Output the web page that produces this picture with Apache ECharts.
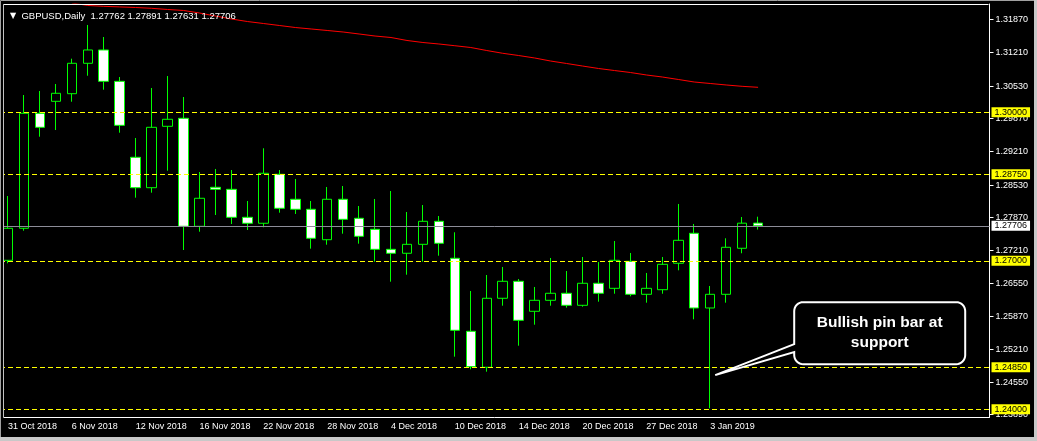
<!DOCTYPE html>
<html><head><meta charset="utf-8">
<script src="https://cdn.jsdelivr.net/npm/echarts@6/dist/echarts.min.js"></script>
<style>html,body{margin:0;padding:0;background:#000;overflow:hidden}#c{width:1037px;height:441px}</style>
</head><body><div id="c"></div>
<script>
// ---------- data ----------
const symbol = 'GBPUSD,Daily';
const categories = [
  '31 Oct 2018','1 Nov 2018','2 Nov 2018','5 Nov 2018','6 Nov 2018','7 Nov 2018','8 Nov 2018','9 Nov 2018',
  '12 Nov 2018','13 Nov 2018','14 Nov 2018','15 Nov 2018','16 Nov 2018','19 Nov 2018','20 Nov 2018','21 Nov 2018',
  '22 Nov 2018','23 Nov 2018','26 Nov 2018','27 Nov 2018','28 Nov 2018','29 Nov 2018','30 Nov 2018','3 Dec 2018',
  '4 Dec 2018','5 Dec 2018','6 Dec 2018','7 Dec 2018','10 Dec 2018','11 Dec 2018','12 Dec 2018','13 Dec 2018',
  '14 Dec 2018','17 Dec 2018','18 Dec 2018','19 Dec 2018','20 Dec 2018','21 Dec 2018','24 Dec 2018','26 Dec 2018',
  '27 Dec 2018','28 Dec 2018','31 Dec 2018','2 Jan 2019','3 Jan 2019','4 Jan 2019','7 Jan 2019','8 Jan 2019'
];
const open = [1.27010,1.27657,1.29980,1.30222,1.30376,1.30990,1.31259,1.30626,
  1.29091,1.28477,1.29717,1.29879,1.27697,1.28485,1.28444,1.27879,
  1.27758,1.28748,1.28243,1.28041,1.27426,1.28243,1.27859,1.27636,
  1.27232,1.27152,1.27333,1.27798,1.27051,1.25576,1.24849,1.26243,
  1.26586,1.25980,1.26202,1.26344,1.26101,1.26546,1.26444,1.26990,
  1.26323,1.26416,1.26950,1.27556,1.26047,1.26323,1.27253,1.27762];
const high = [1.28309,1.30349,1.30430,1.30572,1.31083,1.31764,1.31521,1.30713,
  1.29481,1.30491,1.30733,1.30309,1.28794,1.28855,1.28834,1.28208,
  1.29273,1.28834,1.28653,1.28208,1.28491,1.28511,1.28107,1.28249,
  1.28410,1.27986,1.28127,1.27905,1.27576,1.26390,1.26713,1.26875,
  1.26632,1.26471,1.27057,1.26794,1.27077,1.26976,1.27400,1.27158,
  1.26754,1.27077,1.28148,1.27744,1.26491,1.27455,1.27885,1.27891];
const low = [1.26950,1.27608,1.29507,1.29642,1.30214,1.30739,1.30457,1.29588,
  1.28275,1.28376,1.28820,1.27218,1.27588,1.27925,1.27744,1.27622,
  1.27677,1.27972,1.27946,1.27245,1.27325,1.27548,1.27346,1.26982,
  1.26578,1.26719,1.26982,1.27103,1.25063,1.24808,1.24760,1.26093,
  1.25285,1.25709,1.26093,1.26053,1.26073,1.26174,1.26335,1.26283,
  1.26154,1.26335,1.26808,1.25818,1.24020,1.26154,1.27152,1.27631];
const close = [1.27657,1.29980,1.29697,1.30384,1.30990,1.31259,1.30626,1.29737,
  1.28477,1.29697,1.29859,1.27697,1.28263,1.28444,1.27879,1.27758,
  1.28768,1.28061,1.28041,1.27455,1.28243,1.27838,1.27495,1.27232,
  1.27152,1.27333,1.27798,1.27354,1.25596,1.24861,1.26243,1.26586,
  1.25798,1.26202,1.26344,1.26101,1.26546,1.26344,1.27010,1.26323,
  1.26444,1.26929,1.27414,1.26047,1.26323,1.27273,1.27760,1.27706];
const movingAverage = [null,null,null,null,1.32208,1.32158,1.32141,1.32129,
  1.32117,1.32101,1.32077,1.32057,1.32006,1.31945,1.31885,1.31834,
  1.31794,1.31754,1.31713,1.31683,1.31653,1.31622,1.31582,1.31541,
  1.31511,1.31451,1.31410,1.31380,1.31345,1.31309,1.31248,1.31192,
  1.31147,1.31097,1.31036,1.30986,1.30935,1.30885,1.30844,1.30804,
  1.30754,1.30713,1.30663,1.30612,1.30582,1.30552,1.30525,1.30505];
const priceTicks = [1.31870,1.31210,1.30530,1.29870,1.29210,1.28530,1.27870,1.27210,1.26550,1.25870,1.25210,1.24550,1.23890];
const levels = [1.30000,1.28750,1.27000,1.24850,1.24000];
const calloutText = 'Bullish pin bar at\nsupport';
const calloutPrice = 1.2469;
const emptyBars = 14;

// ---------- chart ----------
const fmt = v => Number(v).toFixed(5);
const last = a => a[a.length - 1];
const cats = categories.concat(Array(emptyBars).fill(''));
const candles = categories.map((_, i) => [open[i], close[i], low[i], high[i]]);
const showEvery4 = (i, v) => v !== '' && i % 4 === 0;
const FONT = 'Liberation Sans';

const levelLabel = (bg) => ({show: true, position: 'end', distance: 2, formatter: p => fmt(p.value), color: '#000000',
  backgroundColor: bg, fontSize: 9, fontFamily: FONT, padding: [1, 3, 0, 3]});

const chart = echarts.init(document.getElementById('c'), null, {renderer: 'canvas'});
const option = {
  backgroundColor: '#000000',
  animation: false,
  textStyle: {fontFamily: FONT},
  title: {
    left: 5, top: 6,
    text: '{t|▼}  ' + symbol + '  ' + [open, high, low, close].map(a => fmt(last(a))).join(' '),
    textStyle: {color: '#ffffff', fontSize: 9.5, fontWeight: 'normal', fontFamily: FONT,
      rich: {t: {fontSize: 8, color: '#ffffff', fontFamily: 'DejaVu Sans'}}}
  },
  grid: {left: -2.5, top: 4, width: 16 * cats.length, height: 413},
  xAxis: {
    type: 'category', data: cats, boundaryGap: true,
    axisLine: {lineStyle: {color: '#ffffff', width: 1}},
    axisTick: {alignWithLabel: true, interval: showEvery4, length: 4, lineStyle: {color: '#ffffff'}},
    axisLabel: {interval: showEvery4, color: '#ffffff', fontSize: 9, fontFamily: FONT, align: 'left', margin: 5},
    splitLine: {show: false}
  },
  yAxis: {
    type: 'value', position: 'right', min: 1.238444, max: 1.321879,
    axisLine: {show: true, lineStyle: {color: '#ffffff'}},
    axisTick: {show: true, customValues: priceTicks, length: 4, lineStyle: {color: '#ffffff'}},
    axisLabel: {customValues: priceTicks, formatter: v => fmt(v), color: '#ffffff', fontSize: 9, fontFamily: FONT, margin: 6},
    splitLine: {show: false}
  },
  series: [
    {
      type: 'candlestick', data: candles, barWidth: 10, clip: true,
      itemStyle: {color: '#000000', color0: '#ffffff', borderColor: '#00ff00', borderColor0: '#00ff00', borderColorDoji: '#00ff00', borderWidth: 1},
      markLine: {
        symbol: 'none', silent: true, animation: false, precision: 5,
        data: levels.map(v => ({
          yAxis: v,
          lineStyle: {color: '#ffff00', type: [5, 3], width: 1},
          label: levelLabel('#ffff00')
        })).concat([{
          yAxis: last(close),
          lineStyle: {color: '#8c8c98', type: 'solid', width: 1},
          label: levelLabel('#ffffff')
        }])
      }
    },
    {
      type: 'line', data: movingAverage, showSymbol: false, clip: true, connectNulls: false,
      lineStyle: {color: '#ff0000', width: 1}, z: 3
    }
  ]
};
chart.setOption(option);

// callout shape (rounded box with a tail pointing at the pin bar)
const pinIdx = low.indexOf(Math.min(...low));
const tip = chart.convertToPixel({xAxisIndex: 0, yAxisIndex: 0}, [pinIdx, calloutPrice]);
const tx = tip[0] + 5, ty = tip[1];
const x0 = tx + 79, y0 = ty - 73, w = 171, h = 62, r = 9;
function arc(cx, cy, a0, a1) {
  const pts = [];
  for (let k = 0; k <= 8; k++) {
    const a = a0 + (a1 - a0) * k / 8;
    pts.push([cx + r * Math.cos(a), cy + r * Math.sin(a)]);
  }
  return pts;
}
const P = Math.PI;
const calloutPts = [].concat(
  arc(x0 + r, y0 + r, P, 1.5 * P),
  arc(x0 + w - r, y0 + r, 1.5 * P, 2 * P),
  arc(x0 + w - r, y0 + h - r, 0, 0.5 * P),
  arc(x0 + r, y0 + h - r, 0.5 * P, P),
  [[x0, y0 + 50], [tx, ty], [x0, y0 + 42]]
);

chart.setOption({
  graphic: [
    {type: 'rect', z: 100, silent: true, shape: {x: 0, y: 0, width: 3.5, height: 441}, style: {fill: '#000000'}},
    {type: 'line', z: 101, silent: true, shape: {x1: 3.5, y1: 4.5, x2: 3.5, y2: 417.5}, style: {stroke: '#c0c0c0', lineWidth: 1}},
    {type: 'line', z: 101, silent: true, shape: {x1: 3.5, y1: 4.5, x2: 988.5, y2: 4.5}, style: {stroke: '#ffffff', lineWidth: 1}},
    {type: 'rect', z: 102, silent: true, shape: {x: 0.5, y: 0.5, width: 1036, height: 440}, style: {fill: 'transparent', stroke: '#a0a0a0', lineWidth: 1}},
    {type: 'rect', z: 102, silent: true, shape: {x: 0, y: 437, width: 1037, height: 4}, style: {fill: '#c8c8c8'}},
    {type: 'rect', z: 102, silent: true, shape: {x: 1034, y: 0, width: 3, height: 441}, style: {fill: '#c8c8c8'}},
    {type: 'polygon', z: 110, silent: true, shape: {points: calloutPts}, style: {fill: '#000000', stroke: '#ffffff', lineWidth: 2}},
    {type: 'text', z: 111, silent: true, x: x0 + w / 2, y: y0 + h / 2,
      style: {text: calloutText, fill: '#ffffff', font: 'bold 15.5px "Liberation Sans"', align: 'center', verticalAlign: 'middle',
        textAlign: 'center', textVerticalAlign: 'middle', lineHeight: 20}}
  ]
});
</script></body></html>
